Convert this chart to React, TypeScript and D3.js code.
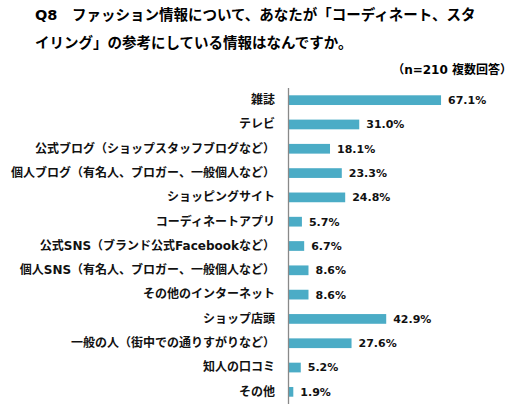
import { useEffect, useRef } from "react";
import * as d3 from "d3";

const titleLines = [
  "Q8　ファッション情報について、あなたが「コーディネート、スタ",
  "イリング」の参考にしている情報はなんですか。",
];
const note = "（n=210 複数回答）";

const categories = [
  "雑誌",
  "テレビ",
  "公式ブログ（ショップスタッフブログなど）",
  "個人ブログ（有名人、ブロガー、一般個人など）",
  "ショッピングサイト",
  "コーディネートアプリ",
  "公式SNS（ブランド公式Facebookなど）",
  "個人SNS（有名人、ブロガー、一般個人など）",
  "その他のインターネット",
  "ショップ店頭",
  "一般の人（街中での通りすがりなど）",
  "知人の口コミ",
  "その他",
];
const values = [67.1, 31.0, 18.1, 23.3, 24.8, 5.7, 6.7, 8.6, 8.6, 42.9, 27.6, 5.2, 1.9];

const BAR_COLOR = "#4bacc6";
const AXIS_COLOR = "#898989";
const FONT = "'DejaVu Sans', 'Noto Sans CJK JP', sans-serif";

export default function App() {
  const svgRef = useRef<SVGSVGElement | null>(null);

  useEffect(() => {
    const svg = d3.select(svgRef.current);
    svg.selectAll("*").remove();

    const width = 532;
    const height = 412;
    svg.attr("width", width).attr("height", height);

    // タイトル
    svg
      .append("g")
      .selectAll("text")
      .data(titleLines)
      .enter()
      .append("text")
      .attr("x", 35)
      .attr("y", (_d, i) => 20 + i * 28)
      .attr("font-family", FONT)
      .attr("font-size", 14.5)
      .attr("font-weight", "bold")
      .attr("fill", "#000")
      .text((d) => d);

    svg
      .append("text")
      .attr("x", 512)
      .attr("y", 74)
      .attr("text-anchor", "end")
      .attr("font-family", FONT)
      .attr("font-size", 12)
      .attr("font-weight", "bold")
      .attr("fill", "#000")
      .text(note);

    const x = d3.scaleLinear().domain([0, 100]).range([289, 289 + 226.6]);
    const y = d3.scaleBand<string>().domain(categories).range([88, 404]).paddingInner(0.6).paddingOuter(0.3);

    // バー
    svg
      .append("g")
      .selectAll("rect")
      .data(values)
      .enter()
      .append("rect")
      .attr("x", x(0))
      .attr("y", (_d, i) => y(categories[i]) ?? 0)
      .attr("width", (d) => x(d) - x(0))
      .attr("height", y.bandwidth())
      .attr("fill", BAR_COLOR);

    // 縦軸
    const axis = svg
      .append("g")
      .attr("transform", `translate(${x(0) - 0.5},0)`)
      .call(d3.axisLeft(y).tickSize(0).tickPadding(13.5));
    axis.select(".domain").attr("stroke", AXIS_COLOR).attr("stroke-width", 1.3).attr("d", "M0,88V404");
    axis
      .selectAll("text")
      .attr("font-family", FONT)
      .attr("font-size", 12)
      .attr("font-weight", "bold")
      .attr("fill", "#111");

    // 値ラベル
    svg
      .append("g")
      .selectAll("text")
      .data(values)
      .enter()
      .append("text")
      .attr("x", (d) => x(d) + 7)
      .attr("y", (_d, i) => (y(categories[i]) ?? 0) + y.bandwidth() / 2)
      .attr("dy", "0.36em")
      .attr("font-family", FONT)
      .attr("font-size", 11)
      .attr("font-weight", "bold")
      .attr("fill", "#111")
      .text((d) => `${d.toFixed(1)}%`);
  }, []);

  return (
    <div style={{ position: "absolute", left: 0, top: 0 }}>
      <svg ref={svgRef} style={{ display: "block" }} />
    </div>
  );
}
